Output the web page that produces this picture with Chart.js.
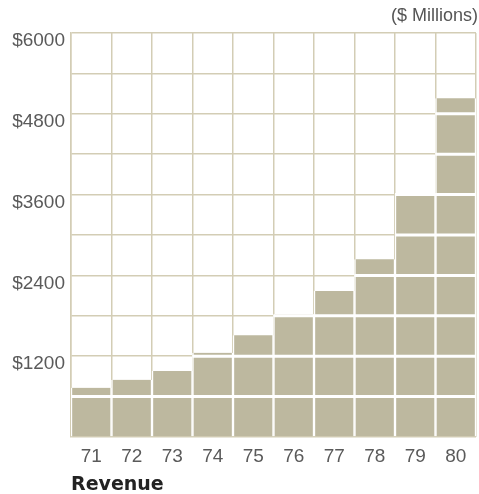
<!DOCTYPE html>
<html>
<head>
<meta charset="utf-8">
<script src="https://cdn.jsdelivr.net/npm/chart.js@4"></script>
<style>
  body { margin: 0; background: #fff; }
  #wrap { position: relative; width: 479px; height: 494px; }
  #unit { position: absolute; right: 1px; top: 5px; font: 18px "Liberation Sans", Arial, sans-serif; color: #555; }
  #caption { position: absolute; left: 71px; top: 472px; font: bold 19px "DejaVu Sans", sans-serif; color: #222; }
</style>
</head>
<body>
<div id="wrap">
  <canvas id="revenueChart" width="479" height="494"></canvas>
  <div id="unit">($ Millions)</div>
  <div id="caption">Revenue</div>
</div>
<script>
// Revenue per year, $ millions
const years = ['71', '72', '73', '74', '75', '76', '77', '78', '79', '80'];
const revenue = [730, 850, 980, 1250, 1510, 1820, 2170, 2640, 3620, 5030];
const yTickValues = [1200, 2400, 3600, 4800, 6000];

const gridColor = '#d3cdb5';
const barColor = '#bdb89f';

// white rules through the bars at every grid step
const barRules = {
    id: 'barRules',
    afterDatasetsDraw(chart) {
        const ctx = chart.ctx;
        const y = chart.scales.y;
        const ticks = y.ticks.map(t => y.getPixelForValue(t.value));
        ctx.save();
        ctx.strokeStyle = '#fff';
        ctx.lineWidth = 3;
        chart.getDatasetMeta(0).data.forEach(bar => {
            const half = bar.width / 2;
            ticks.forEach(py => {
                if (py > bar.y && py < bar.base) {
                    ctx.beginPath();
                    ctx.moveTo(bar.x - half, py);
                    ctx.lineTo(bar.x + half, py);
                    ctx.stroke();
                }
            });
        });
        ctx.restore();
    }
};

const ctx = document.getElementById('revenueChart').getContext('2d');
new Chart(ctx, {
    type: 'bar',
    data: {
        labels: years,
        datasets: [{
            data: revenue,
            backgroundColor: barColor,
            borderColor: '#fff',
            borderWidth: { left: 1.5, right: 1.5, top: 0, bottom: 0 },
            borderSkipped: false,
            barPercentage: 1,
            categoryPercentage: 1
        }]
    },
    options: {
        responsive: false,
        animation: false,
        layout: { padding: { top: 33, right: 3, left: 0, bottom: 0 } },
        plugins: { legend: { display: false }, tooltip: { enabled: false } },
        scales: {
            x: {
                grid: { color: gridColor, lineWidth: 1.5, drawTicks: false, offset: true },
                border: { display: false },
                ticks: {
                    padding: 8,
                    color: '#5a5a5a',
                    font: { family: 'Liberation Sans', size: 19 }
                },
                afterFit(scale) { scale.height = 57; }
            },
            y: {
                min: 0,
                max: 6000,
                grid: { color: gridColor, lineWidth: 1.5, drawTicks: false },
                border: { color: gridColor, width: 1.5 },
                ticks: {
                    stepSize: 600,
                    padding: 6,
                    labelOffset: 8,
                    color: '#5a5a5a',
                    font: { family: 'Liberation Sans', size: 19 },
                    callback: v => yTickValues.includes(v) ? '$' + v : ''
                },
                afterFit(scale) { scale.width = 71; }
            }
        }
    },
    plugins: [barRules]
});
</script>
</body>
</html>
